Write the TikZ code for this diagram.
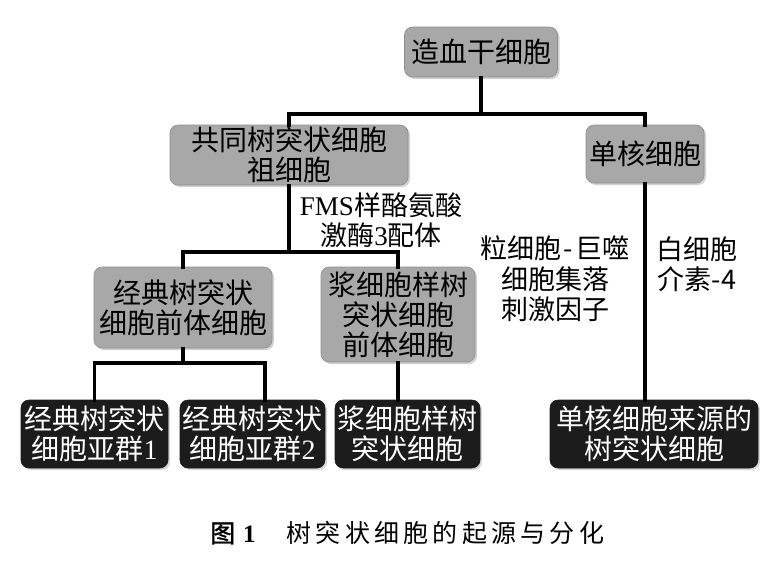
\documentclass[tikz,border=0pt]{standalone}
\usepackage{fontspec}
\setmainfont{Liberation Serif}
\newfontfamily\cjk{Noto Sans CJK SC}
\newfontfamily\cjkcap[LetterSpace=17]{Noto Sans CJK SC}
\newfontfamily\cjkb[FakeBold=1.5]{Noto Sans CJK SC}
\usetikzlibrary{shadows}
\definecolor{boxgray}{HTML}{A8A8A8}
\definecolor{boxblack}{HTML}{1C1C1C}
\tikzset{
  gbox/.style={rounded corners=8pt, fill=boxgray, draw=boxgray!85!black, line width=0.6pt,
    drop shadow={opacity=0.35, shadow xshift=2pt, shadow yshift=-2pt},
    font=\cjk\fontsize{28}{30}\selectfont, align=center, inner sep=0pt, text=black},
  bbox/.style={rounded corners=8pt, fill=boxblack, draw=boxblack, line width=0.6pt,
    drop shadow={opacity=0.3, shadow xshift=2pt, shadow yshift=-2pt},
    font=\cjk\fontsize{28}{30}\selectfont, align=center, inner sep=0pt, text=white,
    minimum height=68pt},
  lbl/.style={font=\cjk\fontsize{27}{30.5}\selectfont, align=center, inner sep=0pt, text=black},
  conn/.style={line width=3.6pt, draw=black, line cap=rect}
}
\begin{document}
\begin{tikzpicture}[x=1pt,y=-1pt]
\useasboundingbox[fill=white] (0,0) rectangle (760,563);

% nodes
\node[gbox, minimum width=153pt, minimum height=50pt] (hsc) at (481,52) {造血干细胞};
\node[gbox, minimum width=238pt, minimum height=60pt] (cdp) at (289,155) {共同树突状细胞\\祖细胞};
\node[gbox, minimum width=118pt, minimum height=58pt] (mono) at (645,154) {单核细胞};
\node[gbox, minimum width=178pt, minimum height=81pt] (cdpre) at (183,307.5) {经典树突状\\细胞前体细胞};
\node[gbox, minimum width=154pt, minimum height=95pt] (pdcpre) at (398,314.5) {浆细胞样树\\突状细胞\\前体细胞};

\node[bbox, minimum width=147pt] (cdc1) at (94.5,434) {经典树突状\\细胞亚群{\rmfamily 1}};
\node[bbox, minimum width=145pt] (cdc2) at (252.5,434) {经典树突状\\细胞亚群{\rmfamily 2}};
\node[bbox, minimum width=145pt] (pdc) at (407.5,434) {浆细胞样树\\突状细胞};
\node[bbox, minimum width=208pt] (modc) at (654,434) {单核细胞来源的\\树突状细胞};

% labels
\node[lbl] (fms) at (381,220) {{\rmfamily FMS}样酪氨酸\\激酶{\rmfamily 3}配体};
\node[lbl] (gm) at (555,279) {粒细胞\kern2pt-\kern2pt巨噬\\细胞集落\\刺激因子};
\node[lbl] (il4) at (697,264) {白细胞\\介素-4};

% caption
\node[anchor=west, inner sep=0pt, font=\fontsize{25}{27}\selectfont] (cap) at (210,533)
  {{\cjkb 图}\hspace{8pt}{\rmfamily\bfseries 1}\hspace{31pt}{\cjkcap 树突状细胞的起源与分化}};

% connectors
\coordinate (r1) at (0,114);
\coordinate (r2) at (0,252);
\coordinate (r3) at (0,363);
\coordinate (k2) at (265,400);
\draw[conn] (hsc.south) -- (hsc.south |- r1);
\draw[conn] (cdp.north) |- (mono.north |- r1) -- (mono.north);
\draw[conn] (cdp.south) -- (cdp.south |- r2);
\draw[conn] (cdpre.north) |- (pdcpre.north |- r2) -- (pdcpre.north);
\draw[conn] (cdpre.south) -- (cdpre.south |- r3);
\draw[conn] (cdc1.north) |- (k2 |- r3) -- (k2);
\draw[conn] (pdcpre.south) -- (pdcpre.south |- pdc.north);
\draw[conn] (mono.south) -- (mono.south |- modc.north);
\end{tikzpicture}
\end{document}
